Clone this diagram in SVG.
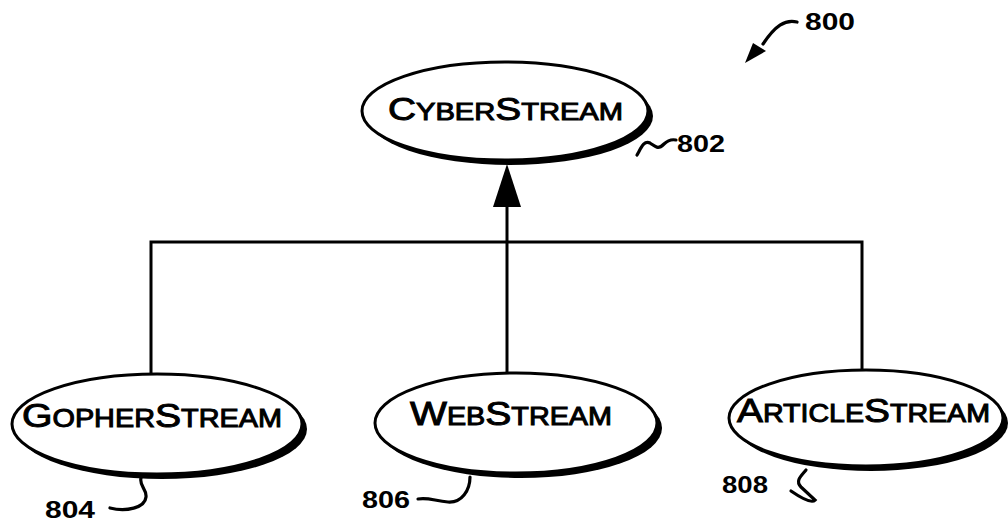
<svg xmlns="http://www.w3.org/2000/svg" width="1008" height="528" viewBox="0 0 1008 528">
<style>
.shadow{fill:#000;stroke:none}
.node{fill:#fff;stroke:#000;stroke-width:3}
.lbl{font-family:"Liberation Sans",Arial,Helvetica,sans-serif;fill:#000;stroke:#000;stroke-width:1}
.big{font-size:34px}
.small{font-size:25px}
.ref{font-family:"Liberation Sans",Arial,Helvetica,sans-serif;font-weight:bold;font-size:24px;fill:#000}
.conn{stroke:#000;stroke-width:3;fill:none}
.lead{stroke:#000;stroke-width:3.2;fill:none;stroke-linecap:round}
</style>
<rect width="1008" height="528" fill="#fff"/>
<g id="connectors">
<polyline class="conn" points="151,375 151,242 862,242 862,371"/>
<line class="conn" x1="507" y1="242" x2="507" y2="372"/>
<line class="conn" x1="507" y1="242" x2="507" y2="200"/>
<polygon points="507,164 493,207 521,207" fill="#000"/>
</g>
<g id="cyberstream">
<ellipse class="shadow" cx="510" cy="116" rx="143" ry="49"/>
<ellipse class="node" cx="505" cy="111" rx="143" ry="49"/>
<text class="lbl" x="388" y="120" textLength="235" lengthAdjust="spacingAndGlyphs"><tspan style="font-size:32px">C</tspan><tspan style="font-size:24px">YBER</tspan><tspan style="font-size:32px">S</tspan><tspan style="font-size:24px">TREAM</tspan></text>
<path class="lead" d="M637 155 C641 148,644 140,650 143 C656 147,658 150,664 144 C668 140,671 139,676 140"/>
<text class="ref" x="677" y="152" textLength="48" lengthAdjust="spacingAndGlyphs">802</text>
</g>
<g id="gopherstream">
<ellipse class="shadow" cx="162" cy="429" rx="145" ry="50"/>
<ellipse class="node" cx="157" cy="424" rx="145" ry="50"/>
<text class="lbl" x="22" y="427" textLength="260" lengthAdjust="spacingAndGlyphs"><tspan class="big">G</tspan><tspan class="small">OPHER</tspan><tspan class="big">S</tspan><tspan class="small">TREAM</tspan></text>
<path class="lead" d="M141 478 C139 486,147 489,146 497 C145 508,126 512,110 508"/>
<text class="ref" x="45" y="518" textLength="50" lengthAdjust="spacingAndGlyphs">804</text>
</g>
<g id="webstream">
<ellipse class="shadow" cx="521" cy="428" rx="141" ry="50"/>
<ellipse class="node" cx="516" cy="423" rx="141" ry="50"/>
<text class="lbl" x="410" y="425" textLength="202" lengthAdjust="spacingAndGlyphs"><tspan class="big">W</tspan><tspan class="small">EB</tspan><tspan class="big">S</tspan><tspan class="small">TREAM</tspan></text>
<path class="lead" d="M470 477 C470 490,462 503,448 502 C435 501,428 497,418 499"/>
<text class="ref" x="362" y="508" textLength="48" lengthAdjust="spacingAndGlyphs">806</text>
</g>
<g id="articlestream">
<ellipse class="shadow" cx="871" cy="423" rx="137" ry="48"/>
<ellipse class="node" cx="866" cy="418" rx="137" ry="48"/>
<text class="lbl" x="737" y="422" textLength="253" lengthAdjust="spacingAndGlyphs"><tspan class="big">A</tspan><tspan class="small">RTICLE</tspan><tspan class="big">S</tspan><tspan class="small">TREAM</tspan></text>
<path class="lead" d="M806 470 C801 476,795 481,801 487 L815 500 C812 503,804 500,791 491"/>
<text class="ref" x="722" y="493" textLength="46" lengthAdjust="spacingAndGlyphs">808</text>
</g>
<g id="figure-ref">
<path class="lead" d="M797 22 C785 19,775 26,763 44"/>
<polygon points="745,63 753,43 766,51" fill="#000"/>
<text class="ref" x="805" y="30" textLength="50" lengthAdjust="spacingAndGlyphs">800</text>
</g>
</svg>
